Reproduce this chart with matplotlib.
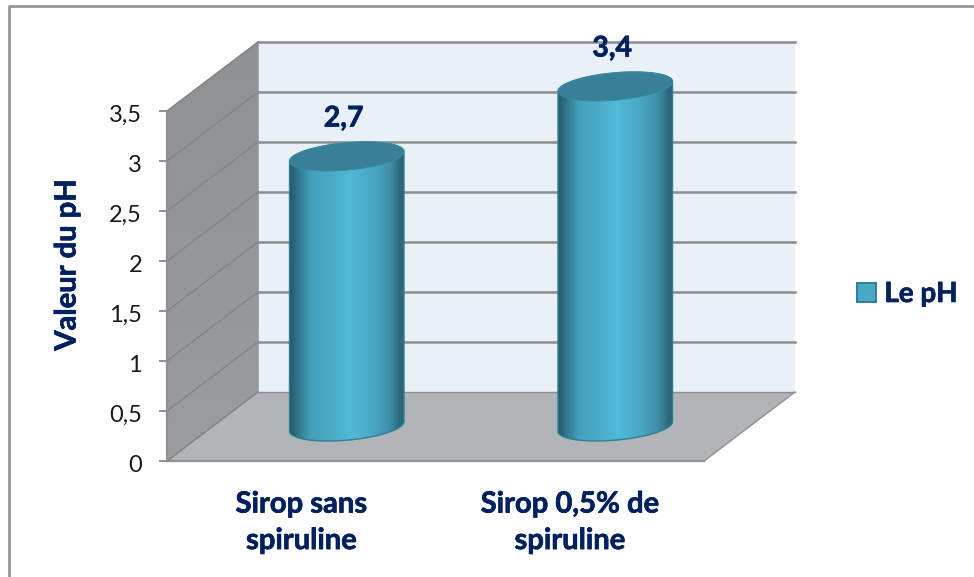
import numpy as np
import matplotlib
matplotlib.use("Agg")
import matplotlib.pyplot as plt
import matplotlib.patheffects as pe
from matplotlib.colors import LinearSegmentedColormap
from matplotlib.lines import Line2D
from matplotlib.patches import Patch, Polygon
from matplotlib.transforms import ScaledTranslation

# Chart data
categories = ["Sirop sans\nspiruline", "Sirop 0,5% de\nspiruline"]
ph_values = [2.7, 3.4]
y_ticks = [0, 0.5, 1, 1.5, 2, 2.5, 3, 3.5]
series_name = "Le pH"
y_title = "Valeur du pH"

NAVY = "#002060"
GRID = "#8c8c8c"
W, H = 974, 577
HEAVY = [pe.withStroke(linewidth=0.5, foreground=NAVY)]

plt.rcParams["font.family"] = ["Lato", "DejaVu Sans"]
fig = plt.figure(figsize=(W / 100, H / 100), dpi=100, facecolor="white")

# Outer frame of the chart area
fig.add_artist(Line2D([9 / W, 9 / W, 1], [0, 1 - 6 / H, 1 - 6 / H],
                      color="#939393", lw=1.9, transform=fig.transFigure))

# The axes cover the front plane of the 3D box
ax = fig.add_axes([167 / W, (H - 461) / H, 537 / W, 350 / H])
ax.set_xlim(0, 2)
ax.set_ylim(0, 3.5)
ax.patch.set_visible(False)

# Oblique projection: depth 0 is the front plane, depth 1 the back wall
DEPTH_X = 91 / 268.5
DEPTH_Y = 0.69


def project(x, y, depth=0.0):
    return x + depth * DEPTH_X, y + depth * DEPTH_Y


def box_face(points, **kw):
    xy = [project(*p) for p in points]
    ax.add_patch(Polygon(xy, closed=True, clip_on=False, lw=0, **kw))


# Back wall, floor and side wall
box_face([(0, 0, 1), (2, 0, 1), (2, 3.5, 1), (0, 3.5, 1)], facecolor="#e9f0f7", zorder=1)
box_face([(0, 0, 0), (2, 0, 0), (2, 0, 1), (0, 0, 1)], facecolor="#b2b5b7", zorder=1)

side_cmap = LinearSegmentedColormap.from_list("side", ["#9b9d9e", "#8e9293"])
side_x0, side_y0 = project(0, 0, 0)
side_x1, side_y1 = project(0, 3.5, 1)
side_img = ax.imshow(np.linspace(0, 1, 64)[:, None], cmap=side_cmap, origin="lower",
                     extent=[side_x0, side_x1, side_y0, side_y1], aspect="auto", zorder=1)
side_clip = Polygon([project(0, 0, 0), project(0, 0, 1), project(0, 3.5, 1), project(0, 3.5, 0)],
                    closed=True, transform=ax.transData)
side_img.set_clip_box(fig.bbox)
side_img.set_clip_path(side_clip)

# Gridlines on the back wall and across the side wall
for v in y_ticks:
    x0, y0 = project(0, v, 0)
    x1, y1 = project(0, v, 1)
    x2, y2 = project(2, v, 1)
    ax.plot([x1, x2], [y1, y2], color=GRID, lw=1.8 if v > 0 else 1.0, clip_on=False, zorder=2)
    ax.plot([x0, x1], [y0, y1], color="#808484", lw=1.1, clip_on=False, zorder=2)

# Edges of the box
for pts in ([(0, 0, 1), (0, 3.5, 1)], [(2, 0, 0), (2, 0, 1)]):
    a, b = project(*pts[0]), project(*pts[1])
    ax.plot([a[0], b[0]], [a[1], b[1]], color="#909494", lw=1.1, clip_on=False, zorder=2)

# Cylinders: a horizontal gradient clipped to the body outline, plus a flat cap
HALF_WIDTH = 0.201
HALF_DEPTH = 0.21
body_cmap = LinearSegmentedColormap.from_list(
    "body",
    [(0.0, "#25596a"), (0.06, "#2f7388"), (0.18, "#44a0b9"), (0.35, "#4aabc7"),
     (0.52, "#52b9d9"), (0.72, "#49a8c4"), (0.87, "#3f8ea7"), (0.96, "#2e6a7d"), (1.0, "#2a6072")])
t = np.linspace(0, 2 * np.pi, 361)


def rim(xc, level):
    xs = xc + HALF_WIDTH * np.cos(t) + HALF_DEPTH * DEPTH_X * np.sin(t) + 0.5 * DEPTH_X
    ys = level + (0.5 + HALF_DEPTH * np.sin(t)) * DEPTH_Y
    return xs, ys


for i, val in enumerate(ph_values):
    xc = i + 0.5
    bx, by = rim(xc, 0)
    tx, ty = rim(xc, val)
    left = np.argmin(bx)
    right = np.argmax(bx)
    # Lower half of the base rim, then upper half of the top rim
    chord = by[right] + (by[left] - by[right]) * (bx - bx[right]) / (bx[left] - bx[right])
    below = by <= chord
    lower = np.where(below)[0]
    lower = lower[np.argsort(-bx[lower])]
    upper = np.where(~below)[0]
    upper = upper[np.argsort(tx[upper])]
    outline = np.vstack([np.column_stack([bx[lower], by[lower]]),
                         np.column_stack([tx[upper], ty[upper]])])
    ax.add_patch(Polygon(outline, closed=True, facecolor="none", edgecolor="#2c7f96", lw=1.0,
                         clip_on=False, zorder=4))
    clip = Polygon(outline, closed=True, transform=ax.transData)
    img = ax.imshow(np.linspace(0, 1, 256)[None, :], cmap=body_cmap,
                    extent=[bx.min(), bx.max(), by.min(), ty.max()], aspect="auto", zorder=3)
    img.set_clip_box(fig.bbox)
    img.set_clip_path(clip)
    ax.add_patch(Polygon(np.column_stack([tx, ty]), closed=True, facecolor="#388097",
                         edgecolor="#3a8aa1", lw=0.6, clip_on=False, zorder=5))
    # Value label above the cylinder
    lx, ly = project(xc, val, 0.5)
    ax.annotate(f"{val:.1f}".replace(".", ","), xy=(lx, ly), xytext=(-3, 38),
                textcoords="offset pixels", ha="center", va="center", fontsize=20.5,
                fontweight="bold", color=NAVY, annotation_clip=False, zorder=6,
                path_effects=HEAVY)

ax.set_xlim(0, 2)
ax.set_ylim(0, 3.5)

# Axes: ticks, spines and labels
for name in ("top", "right"):
    ax.spines[name].set_visible(False)
for name in ("left", "bottom"):
    ax.spines[name].set_color("#909292")
    ax.spines[name].set_linewidth(1.6)
    ax.spines[name].set_zorder(2.5)
ax.set_yticks(y_ticks)
ax.set_yticklabels([f"{v:g}".replace(".", ",") for v in y_ticks], fontsize=17, color="#1a1a1a")
ax.tick_params(axis="y", length=6, width=1.4, color="#909292", pad=12)
shift_down = ScaledTranslation(0, -2 / 100, fig.dpi_scale_trans)
for lab in ax.get_yticklabels():
    lab.set_transform(lab.get_transform() + shift_down)
ax.set_xticks([0.5, 1.5])
ax.set_xticklabels(categories, fontsize=21, fontweight="bold", color=NAVY, linespacing=1.5,
                   path_effects=HEAVY)
ax.tick_params(axis="x", length=0, pad=22)
fig.text(67.5 / W, 1 - 265 / H, y_title, rotation=90, ha="center", va="center",
         fontsize=21, fontweight="bold", color=NAVY, path_effects=HEAVY)

# Legend
handle = Patch(facecolor="#48a9c5", edgecolor="#2f7f95", linewidth=1.4, label=series_name)
legend = fig.legend(handles=[handle], loc="center left", bbox_to_anchor=(838 / W, 1 - 294 / H),
                    frameon=False, labelcolor=NAVY, prop={"weight": "bold", "size": 20},
                    handlelength=0.65, handleheight=0.65, handletextpad=0.32, borderpad=0.2)
for txt in legend.get_texts():
    txt.set_path_effects(HEAVY)

fig.savefig("out.png", dpi=100)
